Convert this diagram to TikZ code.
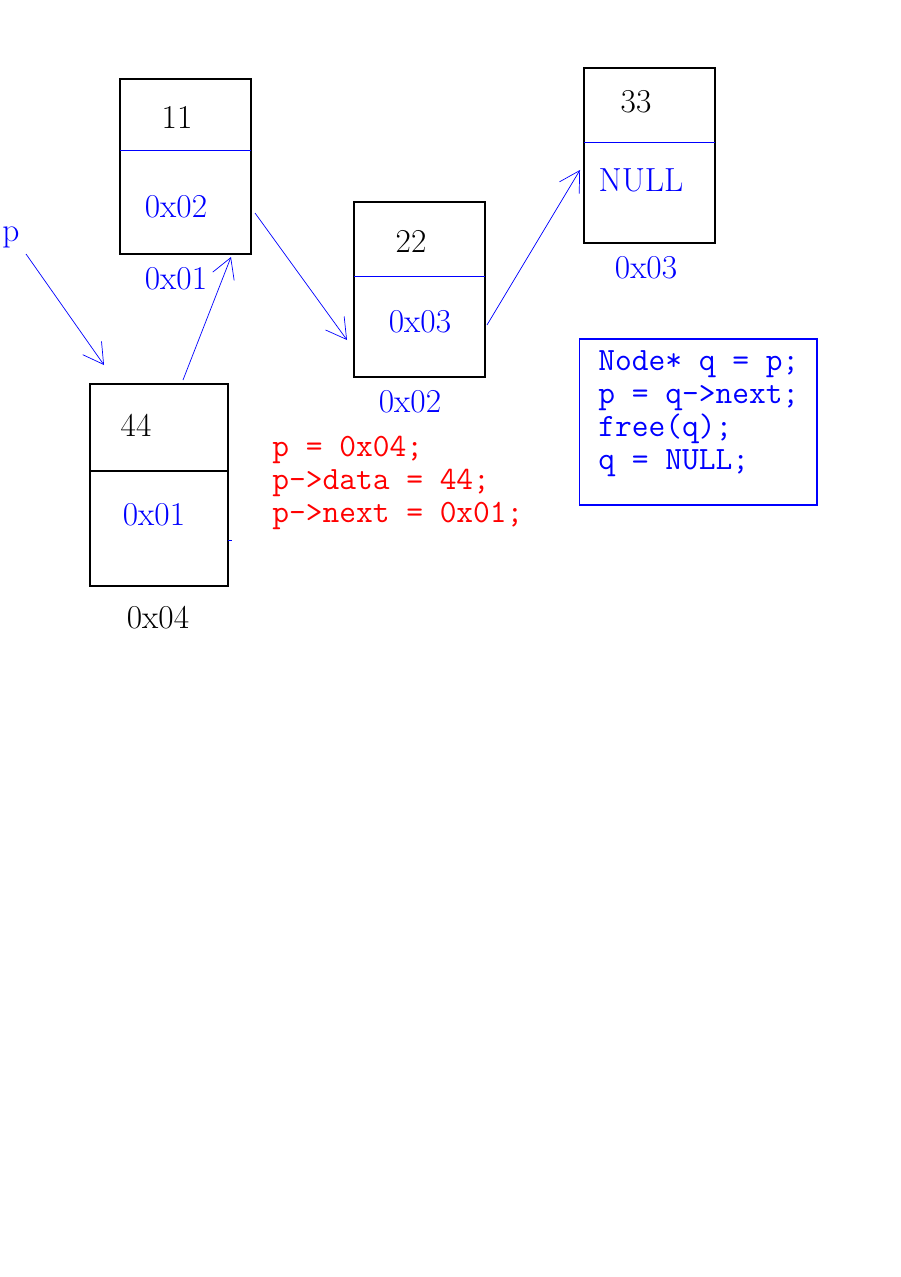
\documentclass[tikz,border=0pt]{standalone}
\usepackage{fontspec}
\usepackage{tikz}
\usetikzlibrary{arrows.meta}

\tikzset{
  cell/.style={draw, line width=0.6pt, minimum width=2.62cm, minimum height=3.5cm, inner sep=0},
  val/.style={font=\fontsize{19}{22}\selectfont, inner sep=0},
  addr/.style={val, blue},
  link/.style={blue, line width=0.4pt, ->},
  code/.style={font=\ttfamily\fontsize{18.5}{18.8}\selectfont, align=left, anchor=west, inner sep=0}
}

\begin{document}
\begin{tikzpicture}[x=0.02cm, y=-0.02cm, >={Straight Barb[length=0.4cm,width=0.46cm]}]
\useasboundingbox (0,0) rectangle (900,1277);
% the four list nodes
\node[cell] (n11) at (185.5,166.5) {};
\node[cell] (n22) at (419.5,289.5) {};
\node[cell] (n33) at (649.5,155.5) {};
\node[cell, minimum width=2.76cm, minimum height=4.04cm] (n44) at (159,485) {};
\draw [blue] (120,150) -- (251,150);
\draw [blue] (354,276) -- (485,276);
\draw [blue] (584,142) -- (715,142);
\draw [line width=0.6pt] (90,471) -- (228,471);
\draw [blue] (228,540) -- (232,540);
% data and next fields
\node[val] (d11) at (177,117) {11};
\node[addr] (x11) at (176,207) {0x02};
\node[val] (d22) at (411,241) {22};
\node[addr] (x22) at (420,322) {0x03};
\node[val] (d33) at (636,102) {33};
\node[addr] (x33) at (641,180) {NULL};
\node[val] (d44) at (136,425) {44};
\node[addr] (x44) at (154,515) {0x01};
% addresses under the boxes
\node[addr] (a11) at (176,279) {0x01};
\node[addr] (a22) at (410,402) {0x02};
\node[addr] (a33) at (646,268) {0x03};
\node[val] (a44) at (158,618) {0x04};
\node[addr] (p) at (11,237) {p};
% arrows
\coordinate (pS) at (26,254);   \coordinate (pE) at (104,365);
\coordinate (s44) at (183,380); \coordinate (e44) at (231,257);
\coordinate (s11) at (255,213); \coordinate (e11) at (347,340);
\coordinate (s22) at (487,325); \coordinate (e22) at (580,170);
\draw [link] (pS) -- (pE);
\draw [link] (s44) -- (e44);
\draw [link] (s11) -- (e11);
\draw [link] (s22) -- (e22);
% code
\node[code, red] (ins) at (272,483) {p = 0x04;\\p->data = 44;\\p->next = 0x01;};
\node[draw=blue, line width=0.6pt, minimum width=4.76cm, minimum height=3.32cm] (del) at (698,422) {};
\node[code, blue] (dtxt) at (598,413.5) {Node* q = p;\\p = q->next;\\free(q);\\q = NULL;};
\end{tikzpicture}
\end{document}
